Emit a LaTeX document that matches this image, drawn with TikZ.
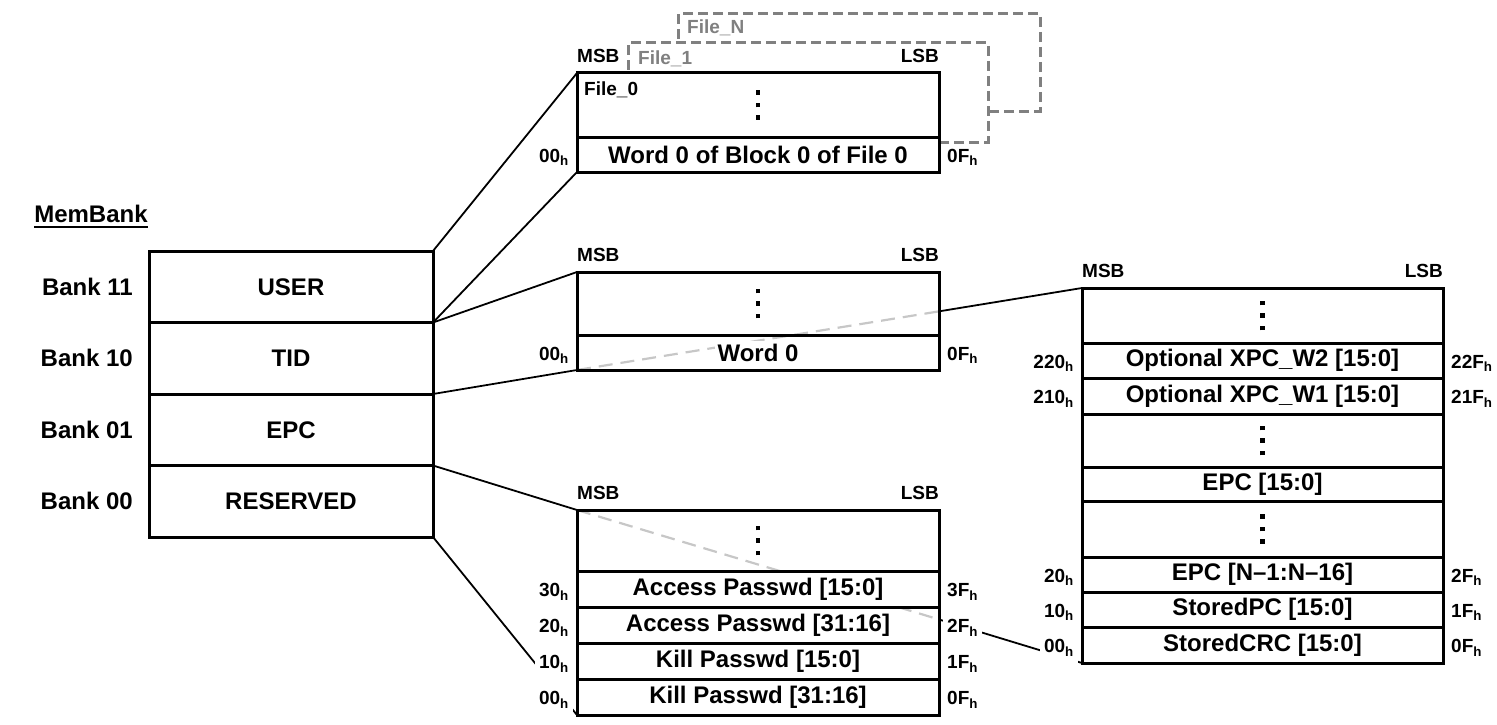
\documentclass[tikz,border=0pt]{standalone}
\usepackage{fontspec}
\setmainfont{Liberation Sans}
\usepackage{xcolor}
\usetikzlibrary{positioning,backgrounds}

\newcommand{\adr}[1]{#1\textsubscript{h}}
\newcommand{\dt}{\hbox{\rule{4.5pt}{4.5pt}}}
\newcommand{\vdts}{\vbox{\offinterlineskip\dt\vskip8pt\dt\vskip8pt\dt}}
\newcommand{\wb}[1]{\colorbox{white}{#1}}

\begin{document}
\begin{tikzpicture}[x=1pt,y=-1pt]
\tikzstyle{bank}=[draw, line width=3pt, outer sep=0pt, minimum width=284pt, minimum height=71.5pt, font=\fontsize{24}{28}\selectfont\bfseries]
\tikzstyle{cell}=[draw, line width=3pt, outer sep=0pt, inner sep=0pt, minimum width=362pt, font=\fontsize{24}{28}\selectfont\bfseries]
\tikzstyle{big}=[inner sep=0pt, font=\fontsize{24}{28}\selectfont\bfseries]
\tikzstyle{tag}=[inner sep=0pt, font=\fontsize{19}{22}\selectfont\bfseries]
\tikzstyle{addr}=[fill=white, inner xsep=4pt, inner ysep=2pt, yshift=-3pt, font=\fontsize{19}{22}\selectfont\bfseries]
\tikzstyle{tall}=[minimum height=36pt]
\tikzstyle{link}=[line width=1.8pt]
\tikzstyle{hid}=[line width=2.2pt, black!22, dash pattern=on 14pt off 8pt]
\tikzstyle{filebox}=[line width=3pt, black!50, dash pattern=on 10pt off 5pt]

\useasboundingbox (0,0) rectangle (1497,725);

% memory banks
\node[big] (title) at (91,214) {MemBank};
\draw[line width=2pt] ([yshift=-4pt]title.south west) -- ([yshift=-4pt]title.south east);
\node[bank, anchor=north west] (user) at (149,251) {USER};
\node[bank, below=0pt of user] (tid) {TID};
\node[bank, below=0pt of tid] (epc) {EPC};
\node[bank, below=0pt of epc] (res) {RESERVED};
\node[big, left=16pt of user] {Bank 11};
\node[big, left=16pt of tid] {Bank 10};
\node[big, left=16pt of epc] {Bank 01};
\node[big, left=16pt of res] {Bank 00};

% user memory
\draw[filebox] (678,39) -- (678,14) -- (1040,14) -- (1040,111) -- (990,111);
\draw[filebox] (628,70) -- (628,43) -- (988,43) -- (988,142) -- (941,142);
\node[tag, text=black!50, anchor=base west] at (687,34) {File\_N};
\node[tag, text=black!50, anchor=base west] at (638,65) {File\_1};
\node[cell, minimum height=64pt, anchor=north west] (u0) at (577,73) {\vdts};
\node[cell, minimum height=35pt, below=0pt of u0] (u1) {\wb{Word 0 of Block 0 of File 0}};
\node[tag, below right=9pt and 7pt of u0.north west] {File\_0};
\node[tag, above right=10pt and 0pt of u0.north west] {MSB};
\node[tag, above left=10pt and 0pt of u0.north east] {LSB};
\node[addr, left=4pt of u1] {\adr{00}};
\node[addr, right=4pt of u1] {\adr{0F}};

% tid memory
\node[cell, minimum height=63pt, anchor=north west] (t0) at (577,272) {\vdts};
\node[cell, minimum height=35pt, below=0pt of t0] (t1) {\wb{Word 0}};
\node[tag, above right=10pt and 0pt of t0.north west] {MSB};
\node[tag, above left=10pt and 0pt of t0.north east] {LSB};
\node[addr, left=4pt of t1] {\adr{00}};
\node[addr, right=4pt of t1] {\adr{0F}};

% reserved memory
\node[cell, minimum height=61pt, anchor=north west] (r0) at (577,510) {\vdts};
\node[cell, minimum height=36pt, below=0pt of r0] (r1) {\wb{Access Passwd [15:0]}};
\node[cell, minimum height=36pt, below=0pt of r1] (r2) {\wb{Access Passwd [31:16]}};
\node[cell, minimum height=36pt, below=0pt of r2] (r3) {\wb{Kill Passwd [15:0]}};
\node[cell, minimum height=36pt, below=0pt of r3] (r4) {\wb{Kill Passwd [31:16]}};
\node[tag, above right=10pt and 0pt of r0.north west] {MSB};
\node[tag, above left=10pt and 0pt of r0.north east] {LSB};
\node[addr, tall, left=4pt of r1] {\adr{30}};
\node[addr, tall, left=4pt of r2] {\adr{20}};
\node[addr, tall, left=4pt of r3] {\adr{10}};
\node[addr, tall, left=4pt of r4] {\adr{00}};
\node[addr, tall, right=4pt of r1] {\adr{3F}};
\node[addr, tall, right=4pt of r2] {\adr{2F}};
\node[addr, tall, right=4pt of r3] {\adr{1F}};
\node[addr, tall, right=4pt of r4] {\adr{0F}};

% epc memory
\node[cell, minimum width=361pt, minimum height=55pt, anchor=north west] (e0) at (1082,288) {\vdts};
\node[cell, minimum width=361pt, minimum height=35pt, below=0pt of e0] (e1) {\wb{Optional XPC\_W2 [15:0]}};
\node[cell, minimum width=361pt, minimum height=36pt, below=0pt of e1] (e2) {\wb{Optional XPC\_W1 [15:0]}};
\node[cell, minimum width=361pt, minimum height=53pt, below=0pt of e2] (e3) {\vdts};
\node[cell, minimum width=361pt, minimum height=34pt, below=0pt of e3] (e4) {\wb{EPC [15:0]}};
\node[cell, minimum width=361pt, minimum height=56pt, below=0pt of e4] (e5) {\vdts};
\node[cell, minimum width=361pt, minimum height=35pt, below=0pt of e5] (e6) {\wb{EPC [N--1:N--16]}};
\node[cell, minimum width=361pt, minimum height=35pt, below=0pt of e6] (e7) {\wb{StoredPC [15:0]}};
\node[cell, minimum width=361pt, minimum height=36pt, below=0pt of e7] (e8) {\wb{StoredCRC [15:0]}};
\node[tag, above right=10pt and 0pt of e0.north west] {MSB};
\node[tag, above left=10pt and 0pt of e0.north east] {LSB};
\node[addr, tall, left=4pt of e1] {\adr{220}};
\node[addr, tall, left=4pt of e2] {\adr{210}};
\node[addr, tall, left=4pt of e6] {\adr{20}};
\node[addr, tall, left=4pt of e7] {\adr{10}};
\node[addr, tall, left=4pt of e8] {\adr{00}};
\node[addr, tall, right=4pt of e1] {\adr{22F}};
\node[addr, tall, right=4pt of e2] {\adr{21F}};
\node[addr, tall, right=4pt of e6] {\adr{2F}};
\node[addr, tall, right=4pt of e7] {\adr{1F}};
\node[addr, tall, right=4pt of e8] {\adr{0F}};

% bank to memory map links
\begin{pgfonlayer}{background}
\draw[link] (user.north east) -- (u0.north west);
\draw[link] (user.south east) -- (u1.south west);
\draw[link] (tid.north east) -- (t0.north west);
\draw[link] (tid.south east) -- (t1.south west);
\draw[link] (res.north east) -- (r0.north west);
\draw[link] (res.south east) -- (r4.south west);
% epc links run behind the tid and reserved maps
\coordinate (tx) at (intersection of epc.north east--e0.north west and t0.north east--t1.south east);
\coordinate (ra) at (intersection of epc.south east--e8.south west and r1.north west--r1.north east);
\coordinate (rb) at (intersection of epc.south east--e8.south west and r2.north west--r2.north east);
\coordinate (rc) at (intersection of epc.south east--e8.south west and r0.north east--r4.south east);
\draw[hid] (t1.south west) -- (tx);
\draw[link] (tx) -- (e0.north west);
\draw[hid] (r0.north west) -- (ra);
\draw[hid] (rb) -- (rc);
\draw[link] (rc) -- (e8.south west);
\end{pgfonlayer}
\end{tikzpicture}
\end{document}
